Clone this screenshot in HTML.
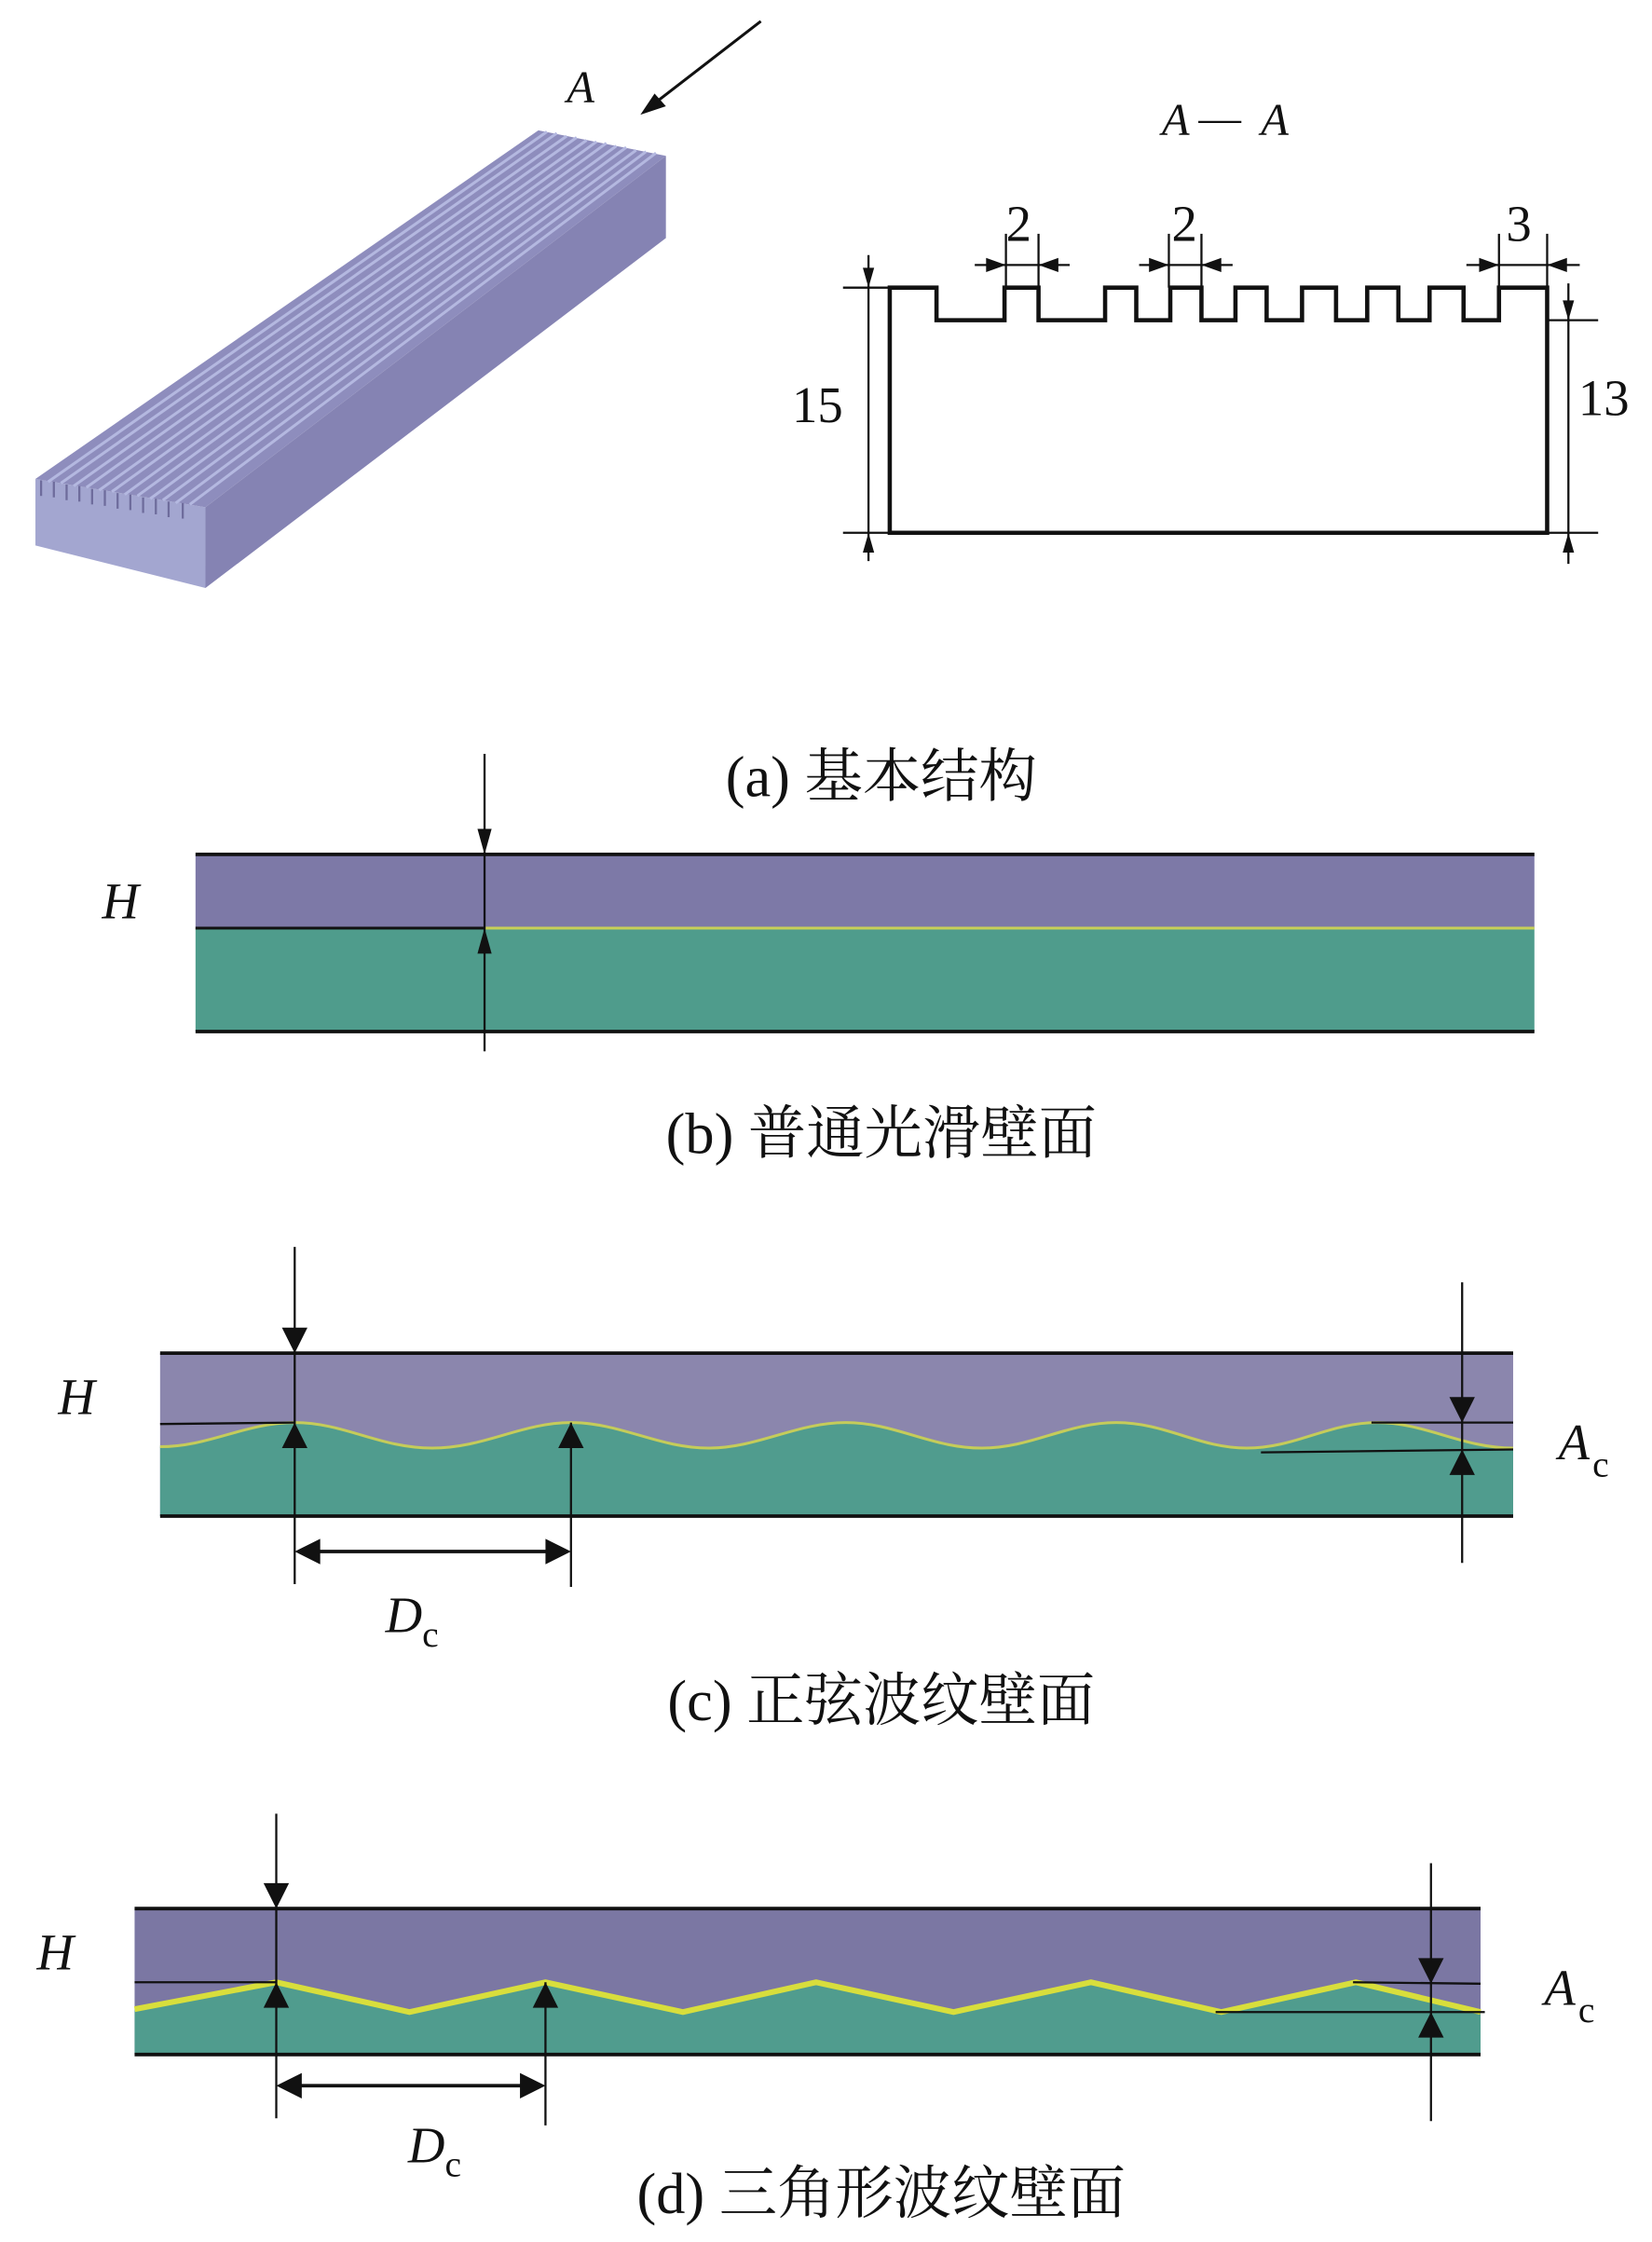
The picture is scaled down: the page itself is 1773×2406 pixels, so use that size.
<!DOCTYPE html>
<html><head><meta charset="utf-8"><style>
html,body{margin:0;padding:0;background:#fff}
svg{display:block}
text{font-family:"Liberation Serif","Noto Serif CJK SC",serif;fill:#111}
.i{font-style:italic}
</style></head><body>
<svg width="1773" height="2406" viewBox="0 0 1166 1582.3" xmlns="http://www.w3.org/2000/svg">
<!-- (a) 3D bar -->
<polygon points="145,358 470,110 470,168 145,415" fill="#8583b3"/>
<polygon points="25,338 145,358 145,415 25,385" fill="#a3a6d0"/>
<polygon points="380,92 470,110 145,358 25,338" fill="#8e8dbd"/>
<g stroke="#b4b8e0" stroke-width="2">
<line x1="386" y1="93" x2="34" y2="340"/><line x1="393" y1="94" x2="43" y2="341"/>
<line x1="400" y1="96" x2="52" y2="343"/><line x1="407" y1="97" x2="61" y2="344"/>
<line x1="414" y1="99" x2="70" y2="346"/><line x1="421" y1="100" x2="79" y2="347"/>
<line x1="428" y1="101" x2="88" y2="349"/><line x1="435" y1="103" x2="97" y2="350"/>
<line x1="442" y1="104" x2="106" y2="352"/><line x1="449" y1="106" x2="115" y2="353"/>
<line x1="456" y1="107" x2="124" y2="355"/><line x1="463" y1="108" x2="134" y2="356"/>
</g>
<g stroke="#6e6c9c" stroke-width="1.5">
<line x1="29" y1="339" x2="29" y2="350"/><line x1="38" y1="340" x2="38" y2="351"/><line x1="47" y1="342" x2="47" y2="353"/><line x1="56" y1="343" x2="56" y2="354"/><line x1="65" y1="345" x2="65" y2="356"/><line x1="74" y1="346" x2="74" y2="357"/><line x1="83" y1="348" x2="83" y2="359"/><line x1="92" y1="349" x2="92" y2="360"/><line x1="101" y1="351" x2="101" y2="362"/><line x1="110" y1="352" x2="110" y2="363"/><line x1="119" y1="354" x2="119" y2="365"/><line x1="129" y1="355" x2="129" y2="366"/>
</g>
<line x1="537" y1="15" x2="458" y2="76" stroke="#111" stroke-width="2"/>
<polygon points="452,81 462,66 470,75" fill="#111"/>
<text x="400" y="72" font-size="32" class="i">A</text>

<!-- A-A section -->
<text x="820" y="95" font-size="32" class="i">A</text>
<text x="846" y="93" font-size="30">—</text>
<text x="890" y="95" font-size="32" class="i">A</text>
<path d="M628,376 L628,203 L661,203 L661,226 L709,226 L709,203 L733,203 L733,226 L780,226 L780,203 L802,203 L802,226 L826,226 L826,203 L848,203 L848,226 L872,226 L872,203 L894,203 L894,226 L919,226 L919,203 L943,203 L943,226 L965,226 L965,203 L987,203 L987,226 L1009,226 L1009,203 L1033,203 L1033,226 L1058,226 L1058,203 L1092,203 L1092,376 Z" fill="none" stroke="#111" stroke-width="3"/>
<g stroke="#111" stroke-width="1.5">
<line x1="595" y1="203" x2="628" y2="203"/><line x1="595" y1="376" x2="628" y2="376"/>
<line x1="613" y1="180" x2="613" y2="396"/>
<line x1="1092" y1="226" x2="1128" y2="226"/><line x1="1092" y1="376" x2="1128" y2="376"/>
<line x1="1107" y1="200" x2="1107" y2="398"/>
<line x1="710" y1="165" x2="710" y2="203"/><line x1="733" y1="165" x2="733" y2="203"/>
<line x1="688" y1="187" x2="755" y2="187"/>
<line x1="825" y1="165" x2="825" y2="203"/><line x1="848" y1="165" x2="848" y2="203"/>
<line x1="804" y1="187" x2="870" y2="187"/>
<line x1="1058" y1="165" x2="1058" y2="203"/><line x1="1092" y1="165" x2="1092" y2="203"/>
<line x1="1035" y1="187" x2="1115" y2="187"/>
</g>
<g fill="#111">
<polygon points="613,203 609,189 617,189"/><polygon points="613,376 609,390 617,390"/>
<polygon points="1107,226 1103,212 1111,212"/><polygon points="1107,376 1103,390 1111,390"/>
<polygon points="710,187 696,182 696,192"/><polygon points="733,187 747,182 747,192"/>
<polygon points="825,187 811,182 811,192"/><polygon points="848,187 862,182 862,192"/>
<polygon points="1058,187 1044,182 1044,192"/><polygon points="1092,187 1106,182 1106,192"/>
</g>
<text x="559" y="298" font-size="36">15</text>
<text x="1114" y="293" font-size="36">13</text>
<text x="710" y="170" font-size="36">2</text>
<text x="827" y="170" font-size="36">2</text>
<text x="1063" y="170" font-size="36">3</text>
<text x="622" y="562" font-size="41" text-anchor="middle">(a) 基本结构</text>

<!-- (b) -->
<rect x="138" y="603" width="945" height="52" fill="#7d79a7"/>
<rect x="138" y="655" width="945" height="73" fill="#4f9c8c"/>
<line x1="138" y1="603" x2="1083" y2="603" stroke="#111" stroke-width="2.5"/>
<line x1="138" y1="728" x2="1083" y2="728" stroke="#111" stroke-width="2.5"/>
<line x1="342" y1="655" x2="1083" y2="655" stroke="#c8cf58" stroke-width="2"/>
<line x1="138" y1="655" x2="342" y2="655" stroke="#111" stroke-width="2"/>
<line x1="342" y1="532" x2="342" y2="742" stroke="#111" stroke-width="1.5"/>
<polygon points="342,603 337,585 347,585" fill="#111"/>
<polygon points="342,655 337,673 347,673" fill="#111"/>
<text x="72" y="648" font-size="36" class="i">H</text>
<text x="622" y="814" font-size="41" text-anchor="middle">(b) 普通光滑壁面</text>

<!-- (c) -->
<rect x="113" y="955" width="955" height="115" fill="#8b86ad"/>
<path d="M113,1021 C148,1021 173,1004 208,1004 C243,1004 268,1022 305,1022 C342,1022 368,1004 403,1004 C438,1004 465,1022 500,1022 C535,1022 562,1004 597,1004 C632,1004 657,1022 693,1022 C728,1022 753,1004 788,1004 C823,1004 846,1022 880,1022 C914,1022 938,1004 972,1004 C1006,1004 1032,1022 1068,1022 L1068,1070 L113,1070 Z" fill="#509c8e"/>
<path d="M113,1021 C148,1021 173,1004 208,1004 C243,1004 268,1022 305,1022 C342,1022 368,1004 403,1004 C438,1004 465,1022 500,1022 C535,1022 562,1004 597,1004 C632,1004 657,1022 693,1022 C728,1022 753,1004 788,1004 C823,1004 846,1022 880,1022 C914,1022 938,1004 972,1004 C1006,1004 1032,1022 1068,1022" fill="none" stroke="#c5cc5a" stroke-width="2"/>
<line x1="113" y1="955" x2="1068" y2="955" stroke="#111" stroke-width="2.5"/>
<line x1="113" y1="1070" x2="1068" y2="1070" stroke="#111" stroke-width="2.5"/>
<g stroke="#111" stroke-width="1.5">
<line x1="113" y1="1005" x2="208" y2="1004"/>
<line x1="208" y1="880" x2="208" y2="1118"/>
<line x1="403" y1="1004" x2="403" y2="1120"/>
<line x1="212" y1="1095" x2="398" y2="1095" stroke-width="2.5"/>
<line x1="1032" y1="905" x2="1032" y2="1103"/>
<line x1="968" y1="1004" x2="1068" y2="1004"/>
<line x1="890" y1="1025" x2="1068" y2="1023"/>
</g>
<g fill="#111">
<polygon points="208,955 199,937 217,937"/><polygon points="208,1004 199,1022 217,1022"/>
<polygon points="403,1004 394,1022 412,1022"/>
<polygon points="208,1095 226,1086 226,1104"/><polygon points="403,1095 385,1086 385,1104"/>
<polygon points="1032,1004 1023,986 1041,986"/><polygon points="1032,1023 1023,1041 1041,1041"/>
</g>
<text x="41" y="998" font-size="36" class="i">H</text>
<text x="272" y="1152" font-size="36" class="i">D</text><text x="298" y="1162" font-size="26">c</text>
<text x="1100" y="1030" font-size="36" class="i">A</text><text x="1124" y="1042" font-size="26">c</text>
<text x="622" y="1214" font-size="41" text-anchor="middle">(c) 正弦波纹壁面</text>

<!-- (d) -->
<rect x="95" y="1347" width="950" height="103" fill="#7b77a3"/>
<path d="M95,1418 L195,1399 L289,1420 L385,1399 L482,1420 L576,1399 L673,1420 L770,1399 L862,1420 L957,1399 L1045,1420 L1045,1450 L95,1450 Z" fill="#509c8e"/>
<path d="M95,1418 L195,1399 L289,1420 L385,1399 L482,1420 L576,1399 L673,1420 L770,1399 L862,1420 L957,1399 L1045,1420" fill="none" stroke="#d8de3c" stroke-width="4"/>
<line x1="95" y1="1347" x2="1045" y2="1347" stroke="#111" stroke-width="2.5"/>
<line x1="95" y1="1450" x2="1045" y2="1450" stroke="#111" stroke-width="2.5"/>
<g stroke="#111" stroke-width="1.5">
<line x1="95" y1="1399" x2="195" y2="1399"/>
<line x1="195" y1="1280" x2="195" y2="1495"/>
<line x1="385" y1="1399" x2="385" y2="1500"/>
<line x1="199" y1="1472" x2="380" y2="1472" stroke-width="2.5"/>
<line x1="1010" y1="1315" x2="1010" y2="1497"/>
<line x1="955" y1="1399" x2="1045" y2="1400"/>
<line x1="858" y1="1420" x2="1048" y2="1420"/>
</g>
<g fill="#111">
<polygon points="195,1347 186,1329 204,1329"/><polygon points="195,1399 186,1417 204,1417"/>
<polygon points="385,1399 376,1417 394,1417"/>
<polygon points="195,1472 213,1463 213,1481"/><polygon points="385,1472 367,1463 367,1481"/>
<polygon points="1010,1400 1001,1382 1019,1382"/><polygon points="1010,1420 1001,1438 1019,1438"/>
</g>
<text x="26" y="1390" font-size="36" class="i">H</text>
<text x="288" y="1526" font-size="36" class="i">D</text><text x="314" y="1536" font-size="26">c</text>
<text x="1090" y="1415" font-size="36" class="i">A</text><text x="1114" y="1427" font-size="26">c</text>
<text x="622" y="1562" font-size="41" text-anchor="middle">(d) 三角形波纹壁面</text>
</svg>
</body></html>
